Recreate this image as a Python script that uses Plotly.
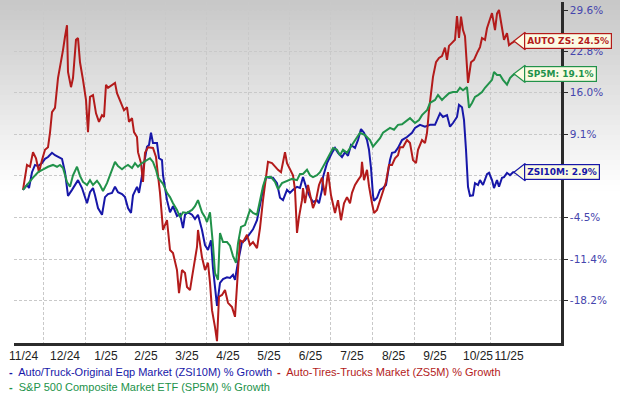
import plotly.graph_objects as go

# ---- data: x = trading-session index since start, y = % growth ----
zsi10m = [(0,0.0),(2,0.8),(3,0.3),(4.5,2.9),(6,4.1),(7.5,3.9),(9.5,4.4),(11,5.1),(12.5,5.4),(14.5,6.1),(16,5.7),(17.5,5.4),(19.5,5.1),(21,2.9),(22.5,-1.0),(24.5,0.0),(26,0.8),(27.5,1.6),(29.5,0.3),(31,-1.2),(32,-2.2),(33.5,-0.4),(35,0.3),(36,-0.9),(37.5,-3.0),(39.5,-4.1),(41,-1.2),(42.5,-0.7),(44.5,-0.5),(46,0.5),(47.5,-0.4),(49.5,-0.7),(51,-1.2),(52.5,-3.0),(54,-3.8),(55,-0.9),(57,0.5),(58,-0.5),(59,1.1),(60,3.3),(61,5.2),(62,7.1),(63,7.4),(64,9.4),(65,7.7),(67,7.7),(68,5.2),(69.5,4.9),(70,2.4),(71,0.3),(72,-1.7),(73.5,-3.7),(75,-2.7),(77,-4.3),(78.5,-4.0),(80,-6.3),(81,-4.1),(82.5,-3.7),(84.5,-4.1),(86,-4.8),(87.5,-4.1),(89.5,-6.6),(91,-9.1),(92.5,-9.9),(94,-8.3),(95,-12.9),(96.5,-17.0),(97,-19.1),(98.5,-15.3),(100,-14.7),(102,-14.4),(103.5,-14.5),(105,-14.0),(106,-14.8),(107.5,-11.9),(109.5,-8.6),(111,-8.3),(113.5,-7.1),(115,-6.5),(117,-5.0),(118.5,-2.3),(120,0.0),(121.5,2.1),(123,2.0),(125,2.0),(127,1.1),(128.5,-1.3),(130,-1.7),(132,0.0),(133.5,-0.5),(135,0.0),(137,0.5),(138.5,0.3),(140,2.1),(142,0.0),(143.5,-1.2),(145,-2.0),(147,-1.7),(148,-2.2),(149.5,0.0),(150,2.1),(151,3.3),(152,4.4),(154.5,6.1),(156,6.9),(157.5,6.1),(159.5,5.4),(161,6.2),(162.5,5.6),(164,7.4),(166,6.9),(167.5,8.2),(169,10.0),(170.5,9.4),(172,8.2),(173,6.6),(174,3.6),(175,-0.9),(175.5,-1.8),(177,-1.3),(178.5,0.0),(180,0.3),(181.5,0.8),(182.5,2.9),(183.5,4.9),(184.5,6.1),(186,6.2),(187.5,6.9),(189.5,8.2),(192,8.7),(194.5,9.4),(196,10.2),(198.5,10.7),(201,10.4),(203.5,10.7),(206,10.7),(208.5,12.6),(210,12.0),(212,12.3),(213.5,10.4),(215,11.0),(217,12.0),(218,14.0),(219.5,13.6),(220.5,11.5),(221.5,6.6),(222.5,0.5),(223.5,-1.0),(225,-0.9),(226,1.1),(227.5,0.8),(228.5,1.6),(230,0.8),(232,2.6),(233,2.8),(234.5,1.6),(235.5,0.3),(237,1.6),(238,0.5),(239.5,2.0),(240.5,2.1),(242,2.8),(243.5,2.4),(245,2.9),(246,2.9)]

zs5m = [(0,0.0),(2,4.1),(3.5,3.8),(5,6.2),(6.5,5.2),(8,2.9),(9.5,4.9),(11,6.6),(12.5,7.0),(13.5,9.4),(14.5,12.8),(16,13.5),(17.5,18.4),(19,21.0),(20,23.0),(21,25.2),(22,27.1),(22.5,19.4),(24,16.9),(25,18.4),(26.5,24.7),(27.5,25.0),(28.5,21.0),(30,18.1),(31.5,14.8),(32.5,9.5),(33.5,15.3),(35,15.6),(36.5,12.6),(38,11.2),(39.5,12.3),(40.5,12.0),(41.5,17.3),(42.5,16.8),(44.5,17.3),(46,17.6),(47,15.9),(49,14.3),(50.5,13.1),(52,13.6),(53,11.2),(54.5,11.8),(55.5,9.5),(57,8.7),(57.5,6.2),(59,4.4),(60,1.3),(61,6.1),(62.5,7.0),(65,6.9),(66.5,5.4),(67.5,2.4),(68.5,-0.5),(70,-6.6),(71,-5.8),(72,-5.0),(73.5,-9.9),(75,-10.4),(77,-13.2),(78,-17.0),(79.5,-13.2),(81,-13.7),(82,-16.0),(83.5,-16.5),(84.5,-14.4),(86,-11.6),(87,-9.4),(87.5,-6.6),(89.5,-11.1),(91,-13.2),(92.5,-12.0),(93.5,-15.3),(94.5,-19.8),(96,-22.6),(97,-24.9),(98,-17.6),(99.5,-17.3),(101,-16.5),(102.5,-18.6),(104.5,-19.3),(106,-20.9),(107.5,-13.2),(108.5,-8.3),(110,-8.6),(112,-7.4),(113.5,-9.1),(115,-8.6),(117,-9.6),(118.5,-6.3),(120,-1.7),(121.5,2.4),(122.5,4.6),(124.5,4.4),(126,3.8),(127.5,3.3),(129,2.9),(131,6.2),(132,4.4),(133.5,3.3),(135,2.4),(136,0.0),(137,-7.1),(138,-4.5),(139.5,-1.7),(140,0.3),(141,-2.2),(142.5,0.8),(144,-1.3),(145,-3.0),(146.5,-1.7),(148,0.8),(149.5,2.0),(151,-0.9),(152.5,2.9),(154,-0.9),(156,-3.8),(157.5,-1.7),(159,-5.0),(160.5,-2.2),(162,-1.2),(163.5,-2.2),(164.5,-0.5),(166,0.8),(167.5,1.6),(169,2.3),(169.5,4.6),(170.5,1.6),(172,3.3),(173,0.6),(174.5,-2.2),(175.5,-3.8),(177,-3.3),(178.5,-1.7),(180,0.0),(181.5,1.3),(183,4.1),(184.5,4.1),(186,5.2),(187.5,5.7),(188.5,7.0),(190,7.0),(192,8.2),(193.5,7.7),(195,4.9),(196.5,4.4),(197.5,6.6),(199.5,8.2),(201,7.7),(202,9.4),(203,13.1),(204,16.1),(205,18.6),(206.5,21.0),(208,21.7),(209.5,22.0),(211,23.4),(212,21.4),(213,23.7),(214.5,24.2),(216,24.7),(217,28.6),(218,25.0),(219,28.5),(220,26.3),(221,25.3),(222.5,17.6),(224,21.0),(225.5,21.4),(227,22.5),(228.5,23.5),(229.5,25.0),(231,24.7),(232,26.6),(233.5,28.0),(234.5,29.1),(236,26.3),(237,29.0),(238,29.6),(239.5,26.8),(240.5,24.7),(242,25.8),(243,23.8),(244.5,24.2),(246,24.5)]

sp5m = [(0,0.0),(2.5,1.1),(5,2.0),(7.5,2.9),(10,3.4),(12.5,3.8),(15,4.1),(17,3.8),(18.5,4.1),(20,3.6),(22,1.3),(23.5,0.5),(25,2.4),(27,3.8),(28.5,2.3),(30,1.3),(32,0.8),(33.5,1.6),(35,0.8),(37,1.5),(38.5,0.8),(40,-0.2),(42,1.1),(43.5,2.4),(46,4.6),(47.5,3.9),(49.5,3.4),(51,3.8),(52.5,4.1),(54.5,3.6),(56,4.4),(57.5,3.8),(59,4.3),(61.5,4.8),(63.5,5.2),(65,4.6),(66.5,3.3),(67.5,2.0),(69,1.5),(70,1.0),(72,-0.5),(73.5,-1.2),(75,-2.2),(77,-3.3),(78.5,-4.5),(80,-3.7),(82,-3.8),(84.5,-3.3),(86,-2.7),(87.5,-1.7),(89.5,-3.7),(91,-4.5),(92,-5.3),(93.5,-3.7),(95,-9.1),(96,-13.7),(97.5,-14.8),(98.5,-7.1),(100,-8.6),(102,-8.6),(103.5,-9.2),(105,-10.9),(106.5,-12.0),(107.5,-8.8),(109,-6.1),(111,-5.8),(113.5,-3.3),(115,-3.8),(117,-4.1),(118.5,-1.7),(120,0.6),(121.5,2.1),(124,2.1),(126,1.3),(127.5,0.1),(129.5,1.1),(132,1.5),(134.5,1.8),(137,1.6),(138.5,2.6),(140,2.6),(142,3.3),(143.5,2.4),(145,2.1),(147,2.4),(148.5,2.9),(151,4.4),(153,5.7),(155,6.9),(157,6.6),(158.5,5.7),(160,6.6),(162,6.1),(163.5,6.9),(166,8.2),(168.5,9.4),(171,9.0),(173.5,8.2),(175,7.1),(177,7.9),(178.5,8.5),(180,9.4),(182,9.9),(183.5,10.2),(185.5,9.9),(187.5,10.7),(189.5,10.8),(191,11.2),(193.5,11.8),(196,11.0),(198,11.5),(199.5,12.3),(202,13.1),(203.5,14.3),(206,14.8),(207.5,15.6),(209.5,14.8),(211,15.3),(213,15.9),(215,16.1),(217,16.1),(218.5,16.8),(220,16.4),(222,16.9),(223,13.5),(224.5,14.3),(226,15.3),(227.5,15.6),(229.5,16.1),(231,16.8),(232.5,17.3),(234.5,18.1),(235.5,19.4),(237,18.9),(238.5,18.9),(240,18.1),(242,17.3),(243.5,18.4),(245,18.9),(246,19.1)]

month_labels = ["11/24", "12/24", "1/25", "2/25", "3/25", "4/25", "5/25", "6/25",
                "7/25", "8/25", "9/25", "10/25", "11/25"]
y_ticks = [29.6, 22.8, 16.0, 9.1, 2.3, -4.5, -11.4, -18.2]
# the 2.3% label sits under the ZSI10M end tag in the reference, so it is left blank
y_tick_text = ["29.6%", "22.8%", "16.0%", "9.1%", "", "-4.5%", "-11.4%", "-18.2%"]

series = [
    ("Auto/Truck-Original Eqp Market (ZSI10M) % Growth", "ZSI10M", zsi10m, "#1717a8"),
    ("Auto-Tires-Trucks Market (ZS5M) % Growth", "AUTO ZS", zs5m, "#b31b1b"),
    ("S&P 500 Composite Market ETF (SP5M) % Growth", "SP5M", sp5m, "#21924a"),
]

# ---- layout helpers (pixel geometry of the 620x395 canvas) ----
W, H = 620, 395
PL, PR, PT, PB = 14, 561, 2, 343          # plot area edges in px
def px_x(p): return (p - PL) / (PR - PL)  # px -> paper x
def px_y(p): return (PB - p) / (PB - PT)  # px -> paper y

month_pos = [0.3, 21, 41.5, 61.5, 82, 102.5, 123, 143.7, 164.5, 185.3, 206, 227.5, 243]
grid_pos = [10.2, 31, 51, 71, 91.9, 112.7, 133.2, 153.9, 174.7, 195.7, 216, 233.9]

fig = go.Figure()
for name, short, pts, color in series:
    fig.add_trace(go.Scatter(
        x=[p[0] for p in pts], y=[p[1] for p in pts], mode="lines", name=name,
        line=dict(color=color, width=2), showlegend=False, hoverinfo="skip"))

# end tags
annotations = []
for name, short, pts, color in series:
    last_x, last_v = pts[-1]
    fig.add_trace(go.Scatter(
        x=[last_x + 3.2], y=[last_v], mode="markers", showlegend=False, hoverinfo="skip",
        cliponaxis=False,
        marker=dict(symbol="triangle-left", size=15, color="#fbfbe3",
                    line=dict(color=color, width=1.2))))
    annotations.append(dict(
        x=last_x, y=last_v, xref="x", yref="y", xanchor="left", yanchor="middle",
        xshift=9, showarrow=False,
        text=f"<b>{short}: {last_v:.1f}%</b>",
        font=dict(family="DejaVu Sans", size=9, color=color),
        bgcolor="#fbfbe3", bordercolor=color, borderwidth=1.2, borderpad=2))

# legend rows drawn as coloured text entries
legend_place = [(7, 372), (275, 372), (7, 387)]
for (name, short, pts, color), (lx, ly) in zip(series, legend_place):
    annotations.append(dict(
        x=px_x(lx), y=px_y(ly), xref="paper", yref="paper", xanchor="left",
        yanchor="middle", showarrow=False,
        text=f"<b>-</b>  {name}",
        font=dict(family="Liberation Sans, Arial", size=11, color=color)))

# gradient background bands
shapes = []
n_band, grad_end = 38, 190
for i in range(n_band):
    p0 = i * grad_end / n_band
    p1 = (i + 1) * grad_end / n_band + 0.5
    g = int(round(199 + (255 - 199) * (i + 0.5) / n_band))
    shapes.append(dict(type="rect", xref="paper", yref="paper",
                       x0=px_x(0), x1=px_x(W), y0=px_y(p1), y1=px_y(p0),
                       fillcolor=f"rgb({g},{g},{g})", line=dict(width=0), layer="below"))

x_lo = -4.5
x_hi = 269
y_lo, y_hi = -25.21, 30.92

fig.update_layout(
    width=W, height=H,
    margin=dict(l=PL, r=W - PR, t=PT, b=H - PB),
    paper_bgcolor="white", plot_bgcolor="rgba(0,0,0,0)",
    showlegend=False,
    shapes=shapes, annotations=annotations,
    xaxis=dict(range=[x_lo, x_hi], showgrid=False, zeroline=False,
               showline=True, linecolor="#2b2b2b", linewidth=2.5,
               tickmode="array", tickvals=month_pos, ticktext=month_labels, ticks="",
               tickangle=0,
               tickfont=dict(family="Liberation Sans, Arial", size=12, color="#222"),
               minor=dict(tickmode="array", tickvals=grid_pos, showgrid=True,
                          gridcolor="#c9c9c9", griddash="3px,2px", gridwidth=1, ticks="")),
    yaxis=dict(range=[y_lo, y_hi], side="right", zeroline=False,
               tickmode="array", tickvals=y_ticks, ticktext=y_tick_text,
               showgrid=True, gridcolor="#c9c9c9", griddash="3px,2px", gridwidth=1,
               showline=True, linecolor="#2b2b2b", linewidth=2.5,
               ticks="outside", ticklen=4, tickcolor="#2b2b2b", tickwidth=1,
               tickfont=dict(family="DejaVu Sans", size=10.5, color="#4545ad")),
)

fig.write_html("out.html", config={"displayModeBar": False},
               post_script="document.body.style.margin='0';")
